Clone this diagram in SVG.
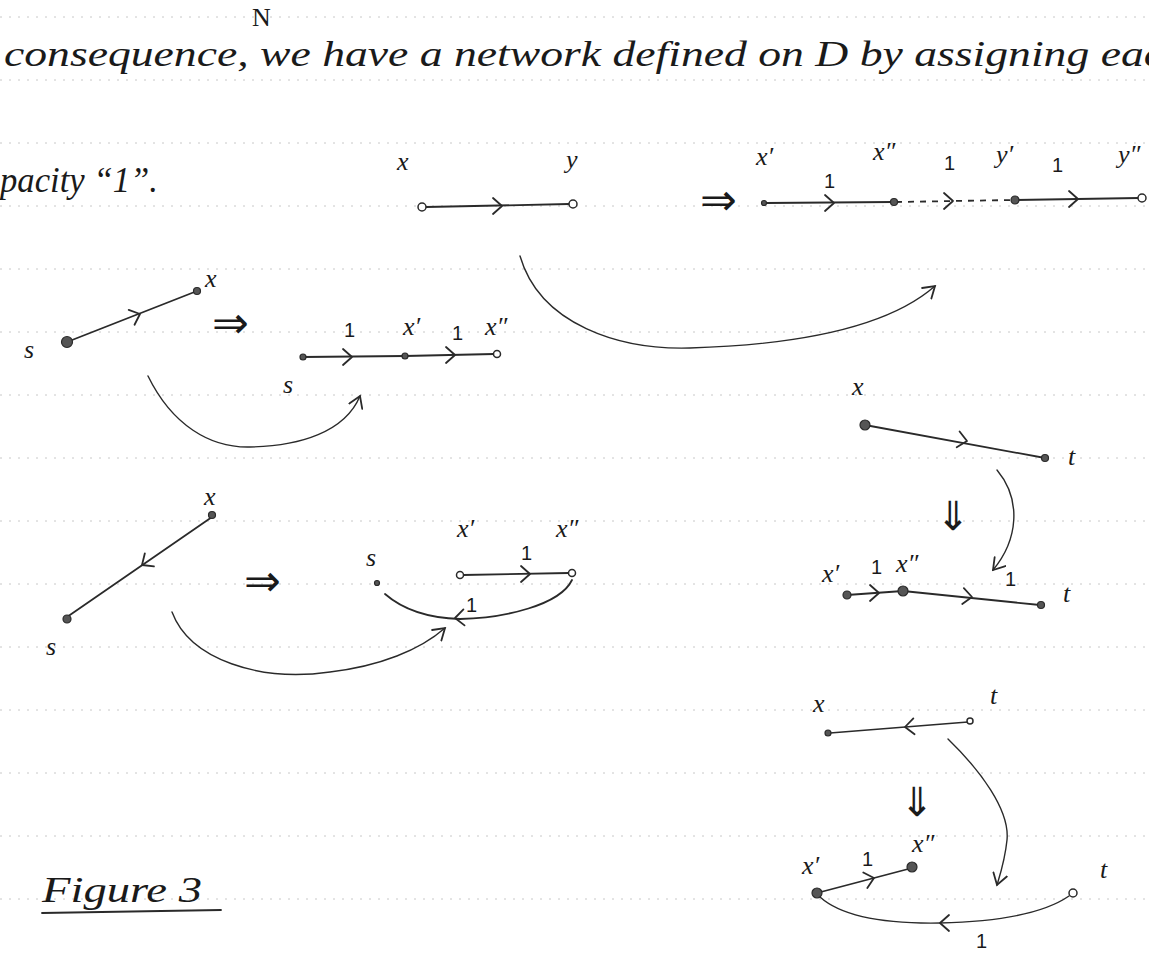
<svg xmlns="http://www.w3.org/2000/svg" xmlns:xlink="http://www.w3.org/1999/xlink" width="1149" height="953" viewBox="0 0 1149 953">
<style>
.rule{stroke:#c8c8c8;stroke-width:1;stroke-dasharray:2 7;fill:none}
.ln{stroke:#2a2a2a;stroke-width:1.8;fill:none;stroke-linecap:round}
.thin{stroke:#2a2a2a;stroke-width:1.4;fill:none;stroke-linecap:round}
.dash{stroke:#2a2a2a;stroke-width:1.8;fill:none;stroke-dasharray:6 6}
.chev{stroke:#2a2a2a;stroke-width:1.8;fill:none;stroke-linecap:round;stroke-linejoin:round}
.dot{fill:#555;stroke:#2a2a2a;stroke-width:1.2}
.open{fill:#fff;stroke:#2a2a2a;stroke-width:1.5}
.hw{font-family:"Liberation Serif",serif;fill:#1a1a1a}
.txt{font-family:"Liberation Serif",serif;font-style:italic;fill:#1a1a1a;font-size:36px}
.lab{font-family:"Liberation Serif",serif;font-style:italic;fill:#1a1a1a;font-size:26px}
.one{font-family:"Liberation Sans",sans-serif;fill:#1a1a1a;font-size:20px}
.dbl{font-family:"DejaVu Sans",sans-serif;fill:#1a1a1a;font-size:44px}
.dblv{font-family:"DejaVu Sans",sans-serif;fill:#1a1a1a;font-size:40px}
</style>
<defs>
<path id="chev" d="M-9,-8 L0,0 L-9,8"/>
<marker id="ah" viewBox="-12 -8 14 16" refX="0" refY="0" markerWidth="14" markerHeight="16" markerUnits="userSpaceOnUse" orient="auto">
<path d="M-11,-7 L0,0 L-11,7" fill="none" stroke="#2a2a2a" stroke-width="1.8" stroke-linecap="round"/>
</marker>
</defs>
<rect width="1149" height="953" fill="#fff"/>
<g id="rules">
<line class="rule" x1="0" y1="17" x2="1149" y2="17"/>
<line class="rule" x1="0" y1="80" x2="1149" y2="80"/>
<line class="rule" x1="0" y1="143" x2="1149" y2="143"/>
<line class="rule" x1="0" y1="206" x2="1149" y2="206"/>
<line class="rule" x1="0" y1="269" x2="1149" y2="269"/>
<line class="rule" x1="0" y1="332" x2="1149" y2="332"/>
<line class="rule" x1="0" y1="395" x2="1149" y2="395"/>
<line class="rule" x1="0" y1="458" x2="1149" y2="458"/>
<line class="rule" x1="0" y1="521" x2="1149" y2="521"/>
<line class="rule" x1="0" y1="584" x2="1149" y2="584"/>
<line class="rule" x1="0" y1="647" x2="1149" y2="647"/>
<line class="rule" x1="0" y1="710" x2="1149" y2="710"/>
<line class="rule" x1="0" y1="773" x2="1149" y2="773"/>
<line class="rule" x1="0" y1="836" x2="1149" y2="836"/>
<line class="rule" x1="0" y1="899" x2="1149" y2="899"/>
</g>
<g id="text">
<text class="txt" x="4" y="66" textLength="1160" lengthAdjust="spacingAndGlyphs">consequence, we have a network defined on D by assigning eac</text>
<text class="hw" x="252" y="26" font-size="26">N</text>
<text class="txt" x="0" y="192" textLength="158" lengthAdjust="spacingAndGlyphs">pacity “1”.</text>
</g>
<g id="connectors">
<line class="ln" x1="426" y1="207" x2="569" y2="204"/>
<use xlink:href="#chev" class="chev" transform="translate(502,206)"/>
<line class="ln" x1="766" y1="203" x2="893" y2="202"/>
<use xlink:href="#chev" class="chev" transform="translate(834,203)"/>
<line class="dash" x1="896" y1="202" x2="1013" y2="200"/>
<use xlink:href="#chev" class="chev" transform="translate(953,201)"/>
<line class="ln" x1="1016" y1="200" x2="1139" y2="198"/>
<use xlink:href="#chev" class="chev" transform="translate(1078,199)"/>
<path class="thin" d="M520,256 C540,325 620,350 690,348 C790,345 885,330 935,286" marker-end="url(#ah)"/>
<line class="ln" x1="67" y1="342" x2="197" y2="291"/>
<use xlink:href="#chev" class="chev" transform="translate(140,314) rotate(-21.4)"/>
<line class="ln" x1="303" y1="357" x2="405" y2="356"/>
<use xlink:href="#chev" class="chev" transform="translate(352,357)"/>
<line class="ln" x1="405" y1="356" x2="494" y2="354"/>
<use xlink:href="#chev" class="chev" transform="translate(455,355)"/>
<path class="thin" d="M148,376 C172,425 210,448 250,447 C300,446 345,432 360,396" marker-end="url(#ah)"/>
<line class="ln" x1="212" y1="517" x2="67" y2="617"/>
<use xlink:href="#chev" class="chev" transform="translate(142,565) rotate(145.4)"/>
<line class="ln" x1="463" y1="575" x2="569" y2="573"/>
<use xlink:href="#chev" class="chev" transform="translate(530,574)"/>
<path class="ln" d="M572,580 C560,605 505,618 460,619 C425,618 400,607 385,594"/>
<use xlink:href="#chev" class="chev" transform="translate(455,618) rotate(176)"/>
<path class="thin" d="M172,612 C190,660 260,682 330,672 C380,666 420,650 445,628" marker-end="url(#ah)"/>
<line class="ln" x1="865" y1="425" x2="1045" y2="458"/>
<use xlink:href="#chev" class="chev" transform="translate(967,441) rotate(10.4)"/>
<path class="thin" d="M997,470 C1022,500 1018,540 993,570" marker-end="url(#ah)"/>
<line class="ln" x1="847" y1="595" x2="903" y2="591"/>
<use xlink:href="#chev" class="chev" transform="translate(879,593)"/>
<line class="ln" x1="903" y1="591" x2="1040" y2="605"/>
<use xlink:href="#chev" class="chev" transform="translate(972,597) rotate(5.8)"/>
<line class="thin" x1="968" y1="722" x2="830" y2="733"/>
<use xlink:href="#chev" class="chev" transform="translate(905,727) rotate(175.6)"/>
<path class="thin" d="M948,739 C980,770 1010,810 1007,840 C1005,860 1000,875 997,885" marker-end="url(#ah)"/>
<line class="ln" x1="817" y1="893" x2="912" y2="868"/>
<use xlink:href="#chev" class="chev" transform="translate(874,878) rotate(-14.7)"/>
<path class="thin" d="M1069,896 C1040,916 985,922 940,923 C880,924 840,915 820,897"/>
<use xlink:href="#chev" class="chev" transform="translate(940,923) rotate(180)"/>
</g>
<g id="arrows-double">
<text class="dbl" x="700" y="215">⇒</text>
<text class="dbl" x="212" y="338">⇒</text>
<text class="dbl" x="244" y="596">⇒</text>
<text class="dblv" x="936" y="530">⇓</text>
<text class="dblv" x="900" y="816">⇓</text>
</g>
<g id="node-x1"><circle class="open" cx="422" cy="207" r="4"/><text class="lab" x="397" y="170">x</text></g>
<g id="node-y1"><circle class="open" cx="573" cy="204" r="4"/><text class="lab" x="566" y="168">y</text></g>
<g id="node-x1p"><circle class="dot" cx="764" cy="203" r="2.5"/><text class="lab" x="756" y="165">x′</text></g>
<g id="node-x1pp"><circle class="dot" cx="894" cy="202" r="3.5"/><text class="lab" x="873" y="160">x″</text></g>
<g id="node-y1p"><circle class="dot" cx="1015" cy="200" r="4"/><text class="lab" x="996" y="163">y′</text></g>
<g id="node-y1pp"><circle class="open" cx="1142" cy="198" r="4"/><text class="lab" x="1118" y="163">y″</text></g>
<g id="caps-row1"><text class="one" x="824" y="188">1</text><text class="one" x="944" y="170">1</text><text class="one" x="1052" y="172">1</text></g>
<g id="node-s2"><circle class="dot" cx="67" cy="342" r="5.5"/><text class="lab" x="24" y="358">s</text></g>
<g id="node-x2"><circle class="dot" cx="197" cy="291" r="3.5"/><text class="lab" x="205" y="287">x</text></g>
<g id="node-s2b"><circle class="dot" cx="303" cy="357" r="3"/><text class="lab" x="283" y="393">s</text></g>
<g id="node-x2p"><circle class="dot" cx="405" cy="356" r="3"/><text class="lab" x="403" y="335">x′</text></g>
<g id="node-x2pp"><circle class="open" cx="497" cy="354" r="3.5"/><text class="lab" x="485" y="335">x″</text></g>
<g id="caps-row2"><text class="one" x="344" y="337">1</text><text class="one" x="452" y="340">1</text></g>
<g id="node-s3"><circle class="dot" cx="67" cy="619" r="4"/><text class="lab" x="46" y="655">s</text></g>
<g id="node-x3"><circle class="dot" cx="212" cy="515" r="3.5"/><text class="lab" x="204" y="505">x</text></g>
<g id="node-s3b"><circle class="dot" cx="377" cy="583" r="2.5"/><text class="lab" x="366" y="566">s</text></g>
<g id="node-x3p"><circle class="open" cx="460" cy="575" r="3.5"/><text class="lab" x="457" y="537">x′</text></g>
<g id="node-x3pp"><circle class="open" cx="572" cy="573" r="3.5"/><text class="lab" x="556" y="537">x″</text></g>
<g id="caps-row3"><text class="one" x="521" y="560">1</text><text class="one" x="466" y="612">1</text></g>
<g id="node-x4"><circle class="dot" cx="865" cy="425" r="5"/><text class="lab" x="852" y="395">x</text></g>
<g id="node-t4"><circle class="dot" cx="1045" cy="458" r="3.5"/><text class="lab" x="1068" y="465">t</text></g>
<g id="node-x4p"><circle class="dot" cx="847" cy="595" r="4"/><text class="lab" x="822" y="582">x′</text></g>
<g id="node-x4pp"><circle class="dot" cx="903" cy="591" r="5"/><text class="lab" x="896" y="572">x″</text></g>
<g id="node-t4b"><circle class="dot" cx="1041" cy="605" r="3.5"/><text class="lab" x="1063" y="602">t</text></g>
<g id="caps-row4"><text class="one" x="871" y="574">1</text><text class="one" x="1005" y="586">1</text></g>
<g id="node-x5"><circle class="dot" cx="828" cy="733" r="3"/><text class="lab" x="813" y="712">x</text></g>
<g id="node-t5"><circle class="open" cx="970" cy="721" r="3"/><text class="lab" x="990" y="704">t</text></g>
<g id="node-x5p"><circle class="dot" cx="817" cy="893" r="5"/><text class="lab" x="802" y="874">x′</text></g>
<g id="node-x5pp"><circle class="dot" cx="912" cy="867" r="5"/><text class="lab" x="912" y="852">x″</text></g>
<g id="node-t5b"><circle class="open" cx="1073" cy="893" r="4"/><text class="lab" x="1100" y="878">t</text></g>
<g id="caps-row5"><text class="one" x="862" y="866">1</text><text class="one" x="976" y="948">1</text></g>
<g id="caption">
<text class="txt" x="42" y="902" font-style="normal" textLength="160" lengthAdjust="spacingAndGlyphs">Figure  3</text>
<line class="ln" x1="42" y1="913" x2="221" y2="910"/>
</g>
</svg>
